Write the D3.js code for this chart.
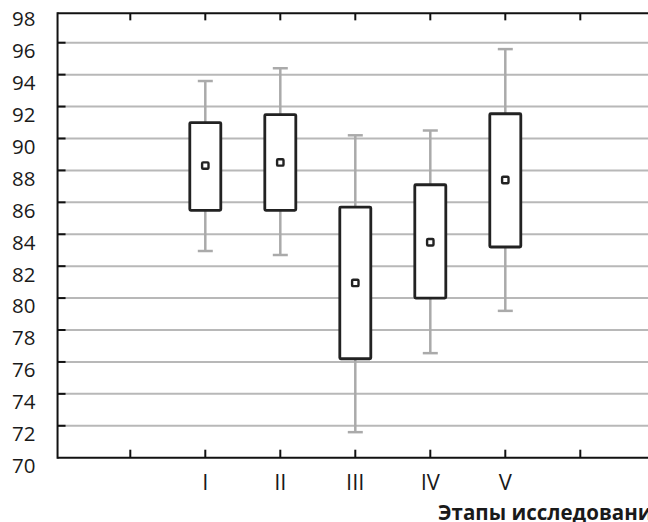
<!DOCTYPE html>
<html><head><meta charset="utf-8">
<script src="https://cdn.jsdelivr.net/npm/d3@7"></script>
<style>body{margin:0;background:#fff}svg{display:block}</style>
</head><body>
<script>
const categories = ["I", "II", "III", "IV", "V"];
const whiskerHigh = [93.6, 94.4, 90.2, 90.5, 95.6];
const boxHigh     = [91.0, 91.5, 85.7, 87.1, 91.55];
const centerVal   = [88.3, 88.5, 80.95, 83.5, 87.4];
const boxLow      = [85.5, 85.5, 76.2, 80.0, 83.2];
const whiskerLow  = [82.95, 82.7, 71.6, 76.55, 79.2];
const yTicks = [70, 72, 74, 76, 78, 80, 82, 84, 86, 88, 90, 92, 94, 96, 98];
const xTickSlots = [0, 1, 2, 3, 4, 5, 6, 7];
const axisTitle = "Этапы исследования";

(function () {
const W = 648, H = 522;
const svg = d3.select("body").append("svg").attr("width", W).attr("height", H);

const y = d3.scaleLinear().domain([70, 98]).range([457.7, 10.8]);
const x = d3.scaleLinear().domain([0, 7]).range([130.3, 655.3]);
const pLeft = x(-0.97), pRight = W + 5;
const pTop = y(97.84), pBottom = y(70);
const inner = yTicks.filter(t => t > 70 && t < 98);

// gridlines
svg.append("g").selectAll("line").data(inner).join("line")
  .attr("x1", pLeft).attr("x2", pRight)
  .attr("y1", d => y(d)).attr("y2", d => y(d))
  .attr("stroke", "#b8b8b8").attr("stroke-width", 2);

// left ticks
svg.append("g").selectAll("line").data(inner).join("line")
  .attr("x1", pLeft).attr("x2", pLeft + 8)
  .attr("y1", d => y(d)).attr("y2", d => y(d))
  .attr("stroke", "#111").attr("stroke-width", 2);

// y labels
svg.append("g").selectAll("text").data(yTicks).join("text")
  .attr("x", 35.5).attr("y", d => y(d) + 8).attr("dy", "0.36em")
  .attr("text-anchor", "end")
  .attr("font-family", "Open Sans, sans-serif").attr("font-size", 20.5)
  .attr("fill", "#1a1a1a").text(d => d);

// frame
svg.append("line").attr("x1", pLeft).attr("x2", pRight).attr("y1", pTop).attr("y2", pTop)
  .attr("stroke", "#111").attr("stroke-width", 2);
svg.append("line").attr("x1", pLeft).attr("x2", pRight).attr("y1", pBottom).attr("y2", pBottom)
  .attr("stroke", "#111").attr("stroke-width", 2);
svg.append("line").attr("x1", pLeft).attr("x2", pLeft).attr("y1", pTop - 1).attr("y2", pBottom + 1)
  .attr("stroke", "#111").attr("stroke-width", 2);

// x ticks (top and bottom)
svg.append("g").selectAll("line").data(xTickSlots).join("line")
  .attr("x1", d => x(d)).attr("x2", d => x(d))
  .attr("y1", pBottom).attr("y2", pBottom - 8)
  .attr("stroke", "#111").attr("stroke-width", 2);
svg.append("g").selectAll("line").data(xTickSlots).join("line")
  .attr("x1", d => x(d)).attr("x2", d => x(d))
  .attr("y1", pTop).attr("y2", pTop + 7)
  .attr("stroke", "#111").attr("stroke-width", 2);

// x labels
svg.append("g").selectAll("text").data(categories).join("text")
  .attr("x", (d, i) => x(i + 1)).attr("y", 489.5)
  .attr("text-anchor", "middle")
  .attr("font-family", "Open Sans, sans-serif").attr("font-size", 22)
  .attr("fill", "#1a1a1a").text(d => d);

svg.append("text").attr("x", 438).attr("y", 519.5)
  .attr("font-family", "Open Sans, sans-serif").attr("font-size", 20.5).attr("font-weight", "bold")
  .attr("fill", "#1a1a1a").text(axisTitle);

const data = categories.map((c, i) => ({c, i, wh: whiskerHigh[i], bh: boxHigh[i], m: centerVal[i], bl: boxLow[i], wl: whiskerLow[i]}));
const g = svg.append("g").selectAll("g").data(data).join("g");
const bw = 31, cw = 15;
// whiskers
g.append("line").attr("x1", d => x(d.i + 1)).attr("x2", d => x(d.i + 1))
  .attr("y1", d => y(d.wh)).attr("y2", d => y(d.bh))
  .attr("stroke", "#aaa").attr("stroke-width", 2.5);
g.append("line").attr("x1", d => x(d.i + 1)).attr("x2", d => x(d.i + 1))
  .attr("y1", d => y(d.bl)).attr("y2", d => y(d.wl))
  .attr("stroke", "#aaa").attr("stroke-width", 2.5);
g.append("line").attr("x1", d => x(d.i + 1) - cw / 2).attr("x2", d => x(d.i + 1) + cw / 2)
  .attr("y1", d => y(d.wh)).attr("y2", d => y(d.wh))
  .attr("stroke", "#aaa").attr("stroke-width", 2.5);
g.append("line").attr("x1", d => x(d.i + 1) - cw / 2).attr("x2", d => x(d.i + 1) + cw / 2)
  .attr("y1", d => y(d.wl)).attr("y2", d => y(d.wl))
  .attr("stroke", "#aaa").attr("stroke-width", 2.5);
// boxes
g.append("rect").attr("x", d => x(d.i + 1) - bw / 2).attr("width", bw)
  .attr("y", d => y(d.bh)).attr("height", d => y(d.bl) - y(d.bh))
  .attr("fill", "#fff").attr("stroke", "#222").attr("stroke-width", 2.8)
  .attr("rx", 1);
// center markers
g.append("rect").attr("x", d => x(d.i + 1) - 3.2).attr("y", d => y(d.m) - 3.2)
  .attr("width", 6.4).attr("height", 6.4).attr("rx", 1)
  .attr("fill", "#fff").attr("stroke", "#222").attr("stroke-width", 2.4);
})();
</script>
</body></html>
